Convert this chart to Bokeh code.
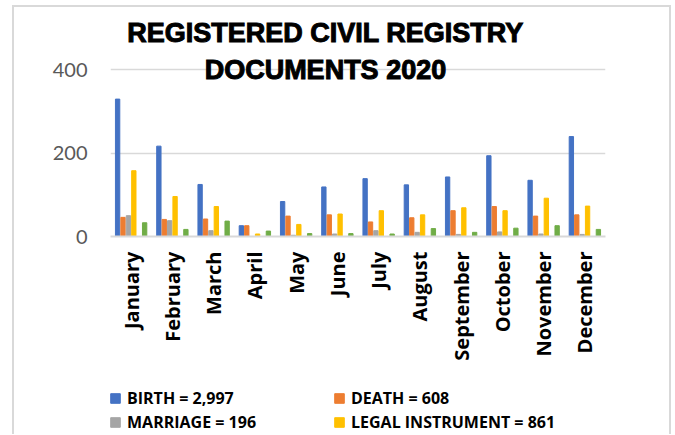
import numpy as np
from bokeh.plotting import figure
from bokeh.layouts import column
from bokeh.models import ColumnDataSource, FactorRange, FixedTicker, Legend, LegendItem, Label
from bokeh.transform import dodge
from bokeh.embed import file_html
from bokeh.resources import INLINE

months = ["January", "February", "March", "April", "May", "June", "July",
          "August", "September", "October", "November", "December"]
birth = [330, 217, 125, 26, 84, 119, 139, 124, 143, 194, 135, 240]
death = [46, 41, 42, 26, 49, 52, 35, 45, 62, 72, 49, 52]
marriage = [50, 38, 14, 0, 3, 6, 14, 10, 5, 11, 6, 5]
legal = [158, 96, 72, 6, 29, 54, 62, 52, 69, 62, 92, 73]
other = [33, 17, 37, 13, 7, 7, 6, 19, 10, 20, 26, 17]

series_names = ["birth", "death", "marriage", "legal", "other"]
series_colors = ["#4472C4", "#ED7D31", "#A5A5A5", "#FFC000", "#70AD47"]
series_slots = [0, 1, 2, 3, 5]
legend_labels = ["BIRTH = 2,997", "DEATH = 608", "MARRIAGE = 196", "LEGAL INSTRUMENT = 861"]
title_lines = ["REGISTERED CIVIL REGISTRY", "DOCUMENTS 2020"]
y_ticks = [0, 200, 400]

src = ColumnDataSource(dict(month=months, birth=birth, death=death,
                            marriage=marriage, legal=legal, other=other))

p = figure(x_range=FactorRange(factors=months, range_padding=0), y_range=(0, 550),
           width=655, height=361, output_backend="svg", toolbar_location=None,
           min_border_left=96, min_border_right=64, min_border_top=0, min_border_bottom=132)

slot_w = 0.131
for name, col, slot in zip(series_names, series_colors, series_slots):
    p.vbar(x=dodge("month", (slot - 2.5) * slot_w, range=p.x_range), top=name,
           width=0.105, source=src, fill_color=col, line_color=col)

p.outline_line_color = None
p.xgrid.grid_line_color = None
p.ygrid.grid_line_color = "#d9d9d9"
p.ygrid.grid_line_width = 1.5

p.yaxis.ticker = FixedTicker(ticks=y_ticks)
p.yaxis.axis_line_color = None
p.yaxis.major_tick_line_color = None
p.yaxis.minor_tick_line_color = None
p.yaxis.major_tick_out = 0
p.yaxis.major_label_standoff = 23
p.yaxis.major_label_text_font = "Lato"
p.yaxis.major_label_text_font_size = "20px"
p.yaxis.major_label_text_color = "#595959"

p.xaxis.axis_line_color = "#d9d9d9"
p.xaxis.axis_line_width = 2
p.xaxis.major_tick_line_color = None
p.xaxis.major_tick_out = 0
p.xaxis.major_label_orientation = np.pi / 2
p.xaxis.major_label_standoff = 15
p.xaxis.major_label_text_font = "Open Sans"
p.xaxis.major_label_text_font_style = "bold"
p.xaxis.major_label_text_font_size = "20px"
p.xaxis.major_label_text_color = "black"

for txt, yv in zip(title_lines, [488, 399]):
    p.add_layout(Label(x=5.21, y=yv, text=txt, text_align="center", text_baseline="middle",
                       text_font="Liberation Sans", text_font_style="bold",
                       text_font_size="27px", text_color="black",
                       text_outline_color="black"))

# legend panel below the chart (swatch renderers are hidden; only the legend shows them)
lg = figure(width=655, height=66, output_backend="svg", toolbar_location=None,
            x_range=(0, 1), y_range=(0, 1), x_axis_location=None, y_axis_location=None,
            min_border=0)
lg.outline_line_color = None
lg.grid.grid_line_color = None
swatch = ColumnDataSource(dict(x=[0.5], y=[0.5]))
leg_renderers = []
for c in series_colors[:4]:
    r = lg.scatter(x="x", y="y", marker="square", size=10, source=swatch,
                   fill_color=c, line_color=c)
    r.visible = False
    leg_renderers.append(r)
legend = Legend(items=[LegendItem(label=l, renderers=[r]) for l, r in zip(legend_labels, leg_renderers)],
                location=(-7, 0), orientation="horizontal", ncols=2,
                glyph_width=24, glyph_height=24, label_standoff=0, label_height=24,
                label_width=200, spacing=0, padding=0, margin=0,
                border_line_color=None, background_fill_alpha=0,
                inactive_fill_alpha=0,
                label_text_font="Open Sans", label_text_font_style="bold",
                label_text_font_size="16px", label_text_color="black")
lg.add_layout(legend, "center")

layout = column(p, lg, spacing=0)
layout.styles = {"border": "2px solid #d9d9d9", "border-bottom": "none",
                 "margin-left": "12px", "margin-top": "5px"}

open("out.html", "w").write(file_html(layout, INLINE))
